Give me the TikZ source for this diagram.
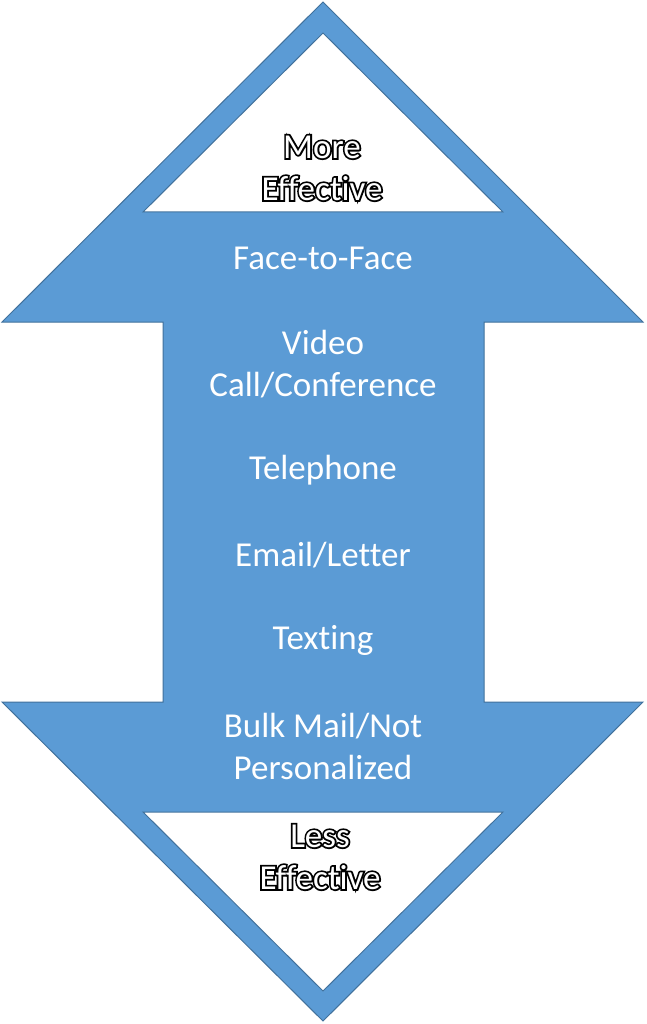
\documentclass[tikz,border=0pt]{standalone}
\usepackage{fontspec}
\setmainfont{Carlito}[Ligatures={NoCommon}]
\newfontfamily\thickfont{Carlito}[Ligatures={NoCommon},FakeBold=10]
\definecolor{arrowfill}{HTML}{5B9BD5}
\definecolor{arrowline}{HTML}{41719C}
\begin{document}
\begin{tikzpicture}[x=1pt,y=-1pt,
  arrowshape/.style={fill=arrowfill,draw=arrowline,line width=1pt,line join=miter},
  innertri/.style={fill=white,draw=arrowline,line width=1pt},
  item/.style={text=white,font=\fontsize{35}{42}\selectfont,align=center,inner sep=0pt},
  endback/.style={text=black,font=\thickfont\fontsize{35}{42}\selectfont,align=center,inner sep=0pt},
  endlabel/.style={text=white,font=\fontsize{35}{42}\selectfont,align=center,inner sep=0pt}]
\useasboundingbox (0,0) rectangle (646,1024);
\fill[white] (0,0) rectangle (646,1024);
\draw[arrowshape] (323,2) -- (643,322) -- (484,322) -- (484,702) -- (643,702)
  -- (323,1021) -- (2,702) -- (163,702) -- (163,322) -- (2,322) -- cycle;
\draw[innertri] (323,33) -- (503,212) -- (143,212) -- cycle;
\draw[innertri] (143,812) -- (503,812) -- (323,991) -- cycle;
\node[endback] (moreback) at (322,168) {More\\Effective};
\node[endlabel] (more) at (322,168) {More\\Effective};
\node[item] (f2f) at (323,258) {Face-to-Face};
\node[item] (video) at (323,364) {Video\\Call/Conference};
\node[item] (tel) at (323,470) {Telephone};
\node[item] (email) at (323,555) {Email/Letter};
\node[item] (text) at (323,640) {Texting};
\node[item] (bulk) at (323,746) {Bulk Mail/Not\\Personalized};
\node[endback] (lessback) at (320,857) {Less\\Effective};
\node[endlabel] (less) at (320,857) {Less\\Effective};
\end{tikzpicture}
\end{document}
